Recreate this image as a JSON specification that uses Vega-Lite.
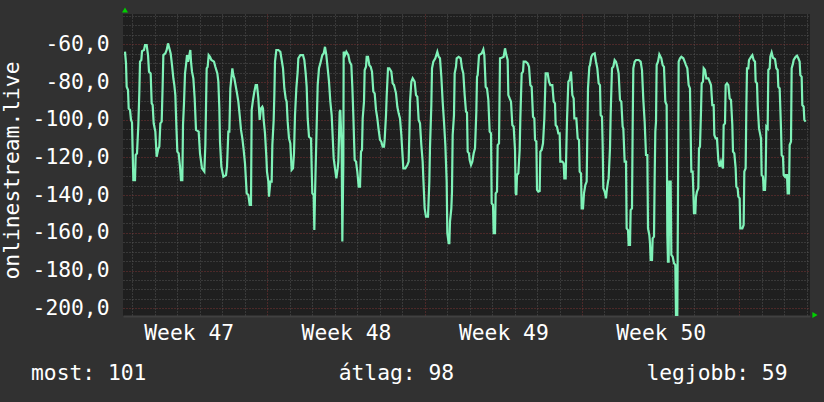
{
  "$schema": "https://vega.github.io/schema/vega-lite/v6.json",
  "width": 687,
  "height": 302,
  "autosize": {"type": "none"},
  "padding": {"left": 123, "top": 14, "right": 14, "bottom": 86},
  "background": "#313131",
  "config": {
    "view": {"fill": "#1f1f1f", "stroke": null},
    "font": "DejaVu Sans Mono",
    "axis": {"labelFont": "DejaVu Sans Mono", "titleFont": "DejaVu Sans Mono", "labelColor": "#ffffff", "titleColor": "#ffffff", "labelFontSize": 21.3, "titleFontSize": 21.3, "titleFontWeight": "normal"}
  },
  "title": {
    "text": "most: 101\u00a0\u00a0\u00a0\u00a0\u00a0\u00a0\u00a0\u00a0\u00a0\u00a0\u00a0\u00a0\u00a0\u00a0\u00a0átlag: 98\u00a0\u00a0\u00a0\u00a0\u00a0\u00a0\u00a0\u00a0\u00a0\u00a0\u00a0\u00a0\u00a0\u00a0\u00a0legjobb: 59",
    "orient": "bottom",
    "anchor": "start",
    "frame": "group",
    "font": "DejaVu Sans Mono",
    "fontSize": 21.3,
    "fontWeight": "normal",
    "color": "#ffffff",
    "dx": -92,
    "offset": 20
  },
  "data": {"values": [
{"d":0.667,"v":-63.9},{"d":0.712,"v":-70.1},{"d":0.741,"v":-82.5},{"d":0.801,"v":-84.2},{"d":0.831,"v":-94.0},{"d":0.890,"v":-94.8},{"d":0.934,"v":-100.1},{"d":0.979,"v":-101.4},{"d":1.008,"v":-116.9},{"d":1.038,"v":-132.0},{"d":1.112,"v":-132.0},{"d":1.142,"v":-118.7},{"d":1.201,"v":-117.8},{"d":1.261,"v":-102.8},{"d":1.305,"v":-85.1},{"d":1.335,"v":-69.2},{"d":1.394,"v":-68.3},{"d":1.424,"v":-63.6},{"d":1.513,"v":-63.0},{"d":1.557,"v":-60.4},{"d":1.631,"v":-60.4},{"d":1.691,"v":-65.7},{"d":1.735,"v":-74.5},{"d":1.809,"v":-75.4},{"d":1.854,"v":-91.3},{"d":1.898,"v":-92.2},{"d":1.943,"v":-101.9},{"d":2.017,"v":-106.3},{"d":2.076,"v":-119.6},{"d":2.150,"v":-115.2},{"d":2.195,"v":-114.3},{"d":2.240,"v":-101.9},{"d":2.299,"v":-101.0},{"d":2.343,"v":-81.6},{"d":2.373,"v":-65.7},{"d":2.462,"v":-64.8},{"d":2.521,"v":-63.0},{"d":2.581,"v":-59.5},{"d":2.640,"v":-62.1},{"d":2.699,"v":-64.8},{"d":2.759,"v":-71.0},{"d":2.818,"v":-78.0},{"d":2.862,"v":-81.6},{"d":2.907,"v":-86.9},{"d":2.951,"v":-102.8},{"d":2.996,"v":-116.9},{"d":3.055,"v":-117.8},{"d":3.114,"v":-124.9},{"d":3.159,"v":-132.0},{"d":3.218,"v":-132.0},{"d":3.248,"v":-102.8},{"d":3.292,"v":-91.3},{"d":3.337,"v":-75.4},{"d":3.381,"v":-71.0},{"d":3.426,"v":-65.7},{"d":3.470,"v":-69.2},{"d":3.515,"v":-66.6},{"d":3.574,"v":-63.0},{"d":3.604,"v":-69.2},{"d":3.648,"v":-74.5},{"d":3.708,"v":-78.0},{"d":3.767,"v":-88.7},{"d":3.826,"v":-105.4},{"d":3.945,"v":-106.3},{"d":4.004,"v":-117.8},{"d":4.093,"v":-125.8},{"d":4.197,"v":-127.5},{"d":4.242,"v":-113.4},{"d":4.301,"v":-72.7},{"d":4.345,"v":-71.9},{"d":4.390,"v":-65.7},{"d":4.449,"v":-66.6},{"d":4.509,"v":-68.3},{"d":4.627,"v":-69.2},{"d":4.687,"v":-71.9},{"d":4.776,"v":-75.4},{"d":4.820,"v":-79.8},{"d":4.865,"v":-94.0},{"d":4.894,"v":-111.6},{"d":4.954,"v":-124.9},{"d":5.043,"v":-130.2},{"d":5.161,"v":-129.3},{"d":5.206,"v":-124.9},{"d":5.265,"v":-106.3},{"d":5.310,"v":-106.3},{"d":5.354,"v":-83.4},{"d":5.398,"v":-78.0},{"d":5.443,"v":-72.7},{"d":5.487,"v":-76.3},{"d":5.532,"v":-78.0},
{"d":5.651,"v":-86.0},{"d":5.710,"v":-90.4},{"d":5.769,"v":-97.5},{"d":5.828,"v":-105.4},{"d":5.888,"v":-109.9},{"d":5.947,"v":-116.0},{"d":6.006,"v":-123.1},{"d":6.081,"v":-139.0},{"d":6.155,"v":-139.9},{"d":6.214,"v":-145.2},{"d":6.273,"v":-145.2},{"d":6.303,"v":-94.8},{"d":6.362,"v":-89.5},{"d":6.422,"v":-85.1},{"d":6.481,"v":-81.6},{"d":6.540,"v":-81.6},{"d":6.600,"v":-88.7},{"d":6.659,"v":-100.1},{"d":6.718,"v":-94.0},{"d":6.778,"v":-93.1},{"d":6.807,"v":-94.0},{"d":6.837,"v":-100.1},{"d":6.896,"v":-107.2},{"d":6.956,"v":-119.6},{"d":6.985,"v":-127.5},{"d":7.045,"v":-132.8},{"d":7.074,"v":-140.8},{"d":7.134,"v":-132.8},{"d":7.193,"v":-132.8},{"d":7.223,"v":-113.4},{"d":7.282,"v":-100.1},{"d":7.312,"v":-86.9},{"d":7.341,"v":-69.2},{"d":7.401,"v":-63.0},{"d":7.490,"v":-63.0},{"d":7.579,"v":-63.9},{"d":7.638,"v":-68.3},{"d":7.697,"v":-72.7},{"d":7.757,"v":-83.4},{"d":7.816,"v":-88.7},{"d":7.860,"v":-90.4},{"d":7.905,"v":-101.0},{"d":7.964,"v":-109.9},{"d":8.023,"v":-112.5},{"d":8.083,"v":-126.6},{"d":8.142,"v":-125.8},{"d":8.187,"v":-117.8},{"d":8.231,"v":-97.5},{"d":8.290,"v":-83.4},{"d":8.350,"v":-74.5},{"d":8.379,"v":-67.4},{"d":8.468,"v":-65.7},{"d":8.587,"v":-65.7},{"d":8.646,"v":-68.3},{"d":8.706,"v":-75.4},{"d":8.750,"v":-82.5},{"d":8.795,"v":-99.3},{"d":8.854,"v":-109.0},{"d":8.943,"v":-109.9},{"d":8.973,"v":-125.8},{"d":9.002,"v":-139.0},{"d":9.062,"v":-139.9},{"d":9.091,"v":-158.5},{"d":9.121,"v":-139.9},{"d":9.180,"v":-110.7},{"d":9.240,"v":-81.6},{"d":9.299,"v":-72.7},{"d":9.358,"v":-70.1},{"d":9.447,"v":-65.7},{"d":9.507,"v":-64.8},{"d":9.566,"v":-61.3},{"d":9.625,"v":-65.7},{"d":9.685,"v":-72.7},{"d":9.744,"v":-79.8},{"d":9.803,"v":-90.4},{"d":9.863,"v":-97.5},{"d":9.952,"v":-120.5},{"d":10.011,"v":-125.8},{"d":10.070,"v":-131.1},{"d":10.130,"v":-125.8},{"d":10.159,"v":-122.2},{"d":10.219,"v":-95.7},{"d":10.248,"v":-94.8},{"d":10.307,"v":-115.2},{"d":10.337,"v":-164.6},{"d":10.382,"v":-122.2},{"d":10.396,"v":-63.9},{"d":10.456,"v":-65.7},{"d":10.515,"v":-63.9},{"d":10.604,"v":-65.7},{"d":10.663,"v":-69.2},
{"d":10.737,"v":-71.0},{"d":10.782,"v":-82.5},{"d":10.826,"v":-97.5},{"d":10.856,"v":-109.9},{"d":10.886,"v":-121.4},{"d":10.945,"v":-122.2},{"d":11.004,"v":-127.5},{"d":11.064,"v":-135.5},{"d":11.123,"v":-135.5},{"d":11.167,"v":-116.9},{"d":11.212,"v":-116.0},{"d":11.242,"v":-99.3},{"d":11.301,"v":-90.4},{"d":11.331,"v":-73.6},{"d":11.390,"v":-71.9},{"d":11.420,"v":-66.6},{"d":11.479,"v":-66.6},{"d":11.538,"v":-71.0},{"d":11.598,"v":-71.9},{"d":11.657,"v":-74.5},{"d":11.716,"v":-85.1},{"d":11.776,"v":-86.0},{"d":11.835,"v":-94.8},{"d":11.894,"v":-99.3},{"d":11.953,"v":-105.4},{"d":12.013,"v":-110.7},{"d":12.072,"v":-111.6},{"d":12.131,"v":-114.3},{"d":12.191,"v":-114.3},{"d":12.220,"v":-110.7},{"d":12.280,"v":-97.5},{"d":12.309,"v":-87.8},{"d":12.369,"v":-72.7},{"d":12.428,"v":-72.7},{"d":12.517,"v":-74.5},{"d":12.576,"v":-80.7},{"d":12.636,"v":-81.6},{"d":12.725,"v":-86.0},{"d":12.784,"v":-93.1},{"d":12.843,"v":-96.6},{"d":12.903,"v":-99.3},{"d":12.962,"v":-108.1},{"d":13.006,"v":-116.9},{"d":13.051,"v":-125.8},{"d":13.140,"v":-125.8},{"d":13.229,"v":-124.0},{"d":13.288,"v":-122.2},{"d":13.318,"v":-108.1},{"d":13.348,"v":-90.4},{"d":13.407,"v":-79.8},{"d":13.466,"v":-78.0},{"d":13.555,"v":-79.8},{"d":13.615,"v":-86.9},{"d":13.674,"v":-87.8},{"d":13.733,"v":-100.1},{"d":13.793,"v":-101.9},{"d":13.852,"v":-113.4},{"d":13.911,"v":-122.2},{"d":13.941,"v":-131.1},{"d":14.000,"v":-147.0},{"d":14.060,"v":-151.4},{"d":14.149,"v":-151.4},{"d":14.208,"v":-132.8},{"d":14.238,"v":-114.3},{"d":14.297,"v":-92.2},{"d":14.327,"v":-72.7},{"d":14.386,"v":-69.2},{"d":14.475,"v":-67.4},{"d":14.564,"v":-63.9},{"d":14.623,"v":-66.6},{"d":14.682,"v":-67.4},{"d":14.742,"v":-77.2},{"d":14.801,"v":-90.4},{"d":14.860,"v":-101.0},{"d":14.920,"v":-113.4},{"d":14.979,"v":-132.8},{"d":15.009,"v":-160.2},{"d":15.068,"v":-165.5},{"d":15.098,"v":-165.5},{"d":15.127,"v":-154.0},{"d":15.187,"v":-147.0},{"d":15.216,"v":-138.1},{"d":15.246,"v":-108.1},{"d":15.305,"v":-97.5},{"d":15.335,"v":-75.4},{"d":15.394,"v":-71.9},{"d":15.424,"v":-67.4},{"d":15.513,"v":-66.6},{"d":15.602,"v":-67.4},{"d":15.661,"v":-72.7},{"d":15.720,"v":-75.4},{"d":15.780,"v":-86.9},
{"d":15.839,"v":-95.7},{"d":15.884,"v":-96.1},{"d":15.914,"v":-116.9},{"d":15.973,"v":-117.8},{"d":16.003,"v":-121.4},{"d":16.062,"v":-124.0},{"d":16.121,"v":-122.2},{"d":16.181,"v":-117.8},{"d":16.240,"v":-115.2},{"d":16.299,"v":-95.7},{"d":16.329,"v":-77.2},{"d":16.359,"v":-76.3},{"d":16.418,"v":-65.7},{"d":16.537,"v":-64.8},{"d":16.611,"v":-62.7},{"d":16.655,"v":-65.7},{"d":16.715,"v":-82.5},{"d":16.774,"v":-83.4},{"d":16.833,"v":-89.5},{"d":16.892,"v":-106.3},{"d":16.952,"v":-107.2},{"d":16.981,"v":-144.3},{"d":17.041,"v":-145.2},{"d":17.070,"v":-160.2},{"d":17.130,"v":-160.2},{"d":17.159,"v":-139.0},{"d":17.219,"v":-138.1},{"d":17.248,"v":-113.4},{"d":17.308,"v":-112.5},{"d":17.352,"v":-67.4},{"d":17.426,"v":-67.1},{"d":17.515,"v":-66.6},{"d":17.575,"v":-62.1},{"d":17.634,"v":-65.7},{"d":17.693,"v":-68.3},{"d":17.723,"v":-86.9},{"d":17.782,"v":-88.7},{"d":17.842,"v":-90.4},{"d":17.901,"v":-102.8},{"d":17.960,"v":-103.7},{"d":18.020,"v":-116.0},{"d":18.049,"v":-139.0},{"d":18.079,"v":-139.9},{"d":18.109,"v":-129.3},{"d":18.168,"v":-128.4},{"d":18.227,"v":-116.0},{"d":18.257,"v":-99.3},{"d":18.316,"v":-75.4},{"d":18.376,"v":-74.5},{"d":18.405,"v":-69.2},{"d":18.494,"v":-69.2},{"d":18.583,"v":-70.1},{"d":18.643,"v":-71.9},{"d":18.702,"v":-81.6},{"d":18.761,"v":-82.5},{"d":18.821,"v":-98.4},{"d":18.880,"v":-99.3},{"d":18.910,"v":-110.7},{"d":18.969,"v":-111.6},{"d":18.999,"v":-137.2},{"d":19.058,"v":-138.1},{"d":19.117,"v":-137.8},{"d":19.147,"v":-116.9},{"d":19.206,"v":-116.0},{"d":19.266,"v":-112.5},{"d":19.325,"v":-99.3},{"d":19.384,"v":-75.4},{"d":19.473,"v":-75.4},{"d":19.532,"v":-79.8},{"d":19.592,"v":-81.6},{"d":19.681,"v":-81.6},{"d":19.740,"v":-90.4},{"d":19.799,"v":-91.3},{"d":19.829,"v":-102.8},{"d":19.888,"v":-103.7},{"d":19.948,"v":-107.2},{"d":20.007,"v":-107.2},{"d":20.037,"v":-122.2},{"d":20.126,"v":-122.2},{"d":20.185,"v":-123.1},{"d":20.215,"v":-131.1},{"d":20.274,"v":-131.1},{"d":20.304,"v":-115.2},{"d":20.333,"v":-100.1},{"d":20.393,"v":-79.8},{"d":20.452,"v":-78.9},{"d":20.511,"v":-74.5},{"d":20.571,"v":-86.9},{"d":20.630,"v":-88.7},{"d":20.660,"v":-99.3},{"d":20.749,"v":-99.3},{"d":20.808,"v":-109.9},{"d":20.867,"v":-110.7},{"d":20.897,"v":-127.5},{"d":20.956,"v":-128.4},{"d":20.986,"v":-147.0},{"d":21.045,"v":-147.0},
{"d":21.089,"v":-139.0},{"d":21.148,"v":-134.6},{"d":21.208,"v":-132.8},{"d":21.237,"v":-108.1},{"d":21.267,"v":-83.4},{"d":21.326,"v":-71.9},{"d":21.356,"v":-71.0},{"d":21.415,"v":-66.6},{"d":21.475,"v":-65.3},{"d":21.564,"v":-64.8},{"d":21.623,"v":-69.2},{"d":21.682,"v":-72.7},{"d":21.742,"v":-80.7},{"d":21.801,"v":-81.6},{"d":21.831,"v":-97.5},{"d":21.890,"v":-98.4},{"d":21.920,"v":-113.4},{"d":21.949,"v":-136.4},{"d":22.008,"v":-138.1},{"d":22.068,"v":-141.7},{"d":22.097,"v":-138.1},{"d":22.157,"v":-132.8},{"d":22.186,"v":-131.1},{"d":22.246,"v":-115.2},{"d":22.275,"v":-97.5},{"d":22.335,"v":-72.7},{"d":22.394,"v":-71.9},{"d":22.453,"v":-68.3},{"d":22.513,"v":-69.2},{"d":22.572,"v":-71.9},{"d":22.631,"v":-75.4},{"d":22.691,"v":-89.5},{"d":22.750,"v":-90.4},{"d":22.809,"v":-103.7},{"d":22.839,"v":-104.6},{"d":22.898,"v":-122.2},{"d":22.958,"v":-122.2},{"d":22.987,"v":-157.6},{"d":23.047,"v":-158.5},{"d":23.076,"v":-166.4},{"d":23.136,"v":-166.4},{"d":23.165,"v":-147.9},{"d":23.225,"v":-147.0},{"d":23.254,"v":-104.6},{"d":23.284,"v":-72.7},{"d":23.343,"v":-69.2},{"d":23.403,"v":-68.3},{"d":23.521,"v":-68.3},{"d":23.610,"v":-69.2},{"d":23.670,"v":-73.6},{"d":23.729,"v":-89.5},{"d":23.788,"v":-101.0},{"d":23.848,"v":-118.7},{"d":23.907,"v":-118.7},{"d":23.937,"v":-157.6},{"d":23.996,"v":-161.1},{"d":24.026,"v":-165.5},{"d":24.055,"v":-174.4},{"d":24.115,"v":-174.4},{"d":24.144,"v":-162.9},{"d":24.204,"v":-162.0},{"d":24.233,"v":-131.1},{"d":24.263,"v":-106.3},{"d":24.293,"v":-101.0},{"d":24.322,"v":-71.0},{"d":24.381,"v":-69.2},{"d":24.441,"v":-65.3},{"d":24.530,"v":-67.4},{"d":24.589,"v":-71.0},{"d":24.648,"v":-71.9},{"d":24.708,"v":-90.4},{"d":24.767,"v":-92.2},{"d":24.797,"v":-161.1},{"d":24.826,"v":-175.3},{"d":24.856,"v":-175.3},{"d":24.886,"v":-132.8},{"d":24.945,"v":-132.8},{"d":24.975,"v":-171.7},{"d":25.034,"v":-172.6},{"d":25.093,"v":-176.1},{"d":25.153,"v":-177.0},{"d":25.182,"v":-203.5},{"d":25.242,"v":-203.5},{"d":25.271,"v":-141.7},{"d":25.301,"v":-69.2},{"d":25.360,"v":-67.4},{"d":25.420,"v":-66.6},{"d":25.509,"v":-67.4},{"d":25.568,"v":-69.2},{"d":25.627,"v":-71.0},{"d":25.687,"v":-72.7},{"d":25.746,"v":-81.6},{"d":25.805,"v":-83.4},{"d":25.865,"v":-127.5},{"d":25.924,"v":-127.5},{"d":25.954,"v":-138.1},{"d":25.983,"v":-149.6},{"d":26.043,"v":-149.6},
{"d":26.072,"v":-140.8},{"d":26.117,"v":-138.1},{"d":26.176,"v":-136.4},{"d":26.206,"v":-115.2},{"d":26.250,"v":-114.3},{"d":26.295,"v":-95.7},{"d":26.325,"v":-80.7},{"d":26.384,"v":-79.8},{"d":26.414,"v":-72.7},{"d":26.473,"v":-73.6},{"d":26.532,"v":-78.0},{"d":26.621,"v":-78.0},{"d":26.681,"v":-79.8},{"d":26.740,"v":-81.6},{"d":26.799,"v":-92.2},{"d":26.859,"v":-92.2},{"d":26.888,"v":-108.1},{"d":26.948,"v":-109.9},{"d":27.007,"v":-109.9},{"d":27.066,"v":-121.4},{"d":27.096,"v":-123.1},{"d":27.126,"v":-124.9},{"d":27.185,"v":-122.2},{"d":27.244,"v":-124.9},{"d":27.274,"v":-125.8},{"d":27.303,"v":-102.8},{"d":27.363,"v":-101.9},{"d":27.392,"v":-81.6},{"d":27.452,"v":-80.7},{"d":27.511,"v":-81.6},{"d":27.570,"v":-88.7},{"d":27.630,"v":-89.5},{"d":27.689,"v":-102.8},{"d":27.719,"v":-116.9},{"d":27.778,"v":-117.8},{"d":27.837,"v":-125.8},{"d":27.867,"v":-135.5},{"d":27.926,"v":-136.4},{"d":27.956,"v":-140.8},{"d":28.015,"v":-141.7},{"d":28.045,"v":-157.6},{"d":28.134,"v":-157.6},{"d":28.193,"v":-155.8},{"d":28.223,"v":-127.5},{"d":28.282,"v":-125.8},{"d":28.312,"v":-94.0},{"d":28.342,"v":-72.7},{"d":28.401,"v":-72.7},{"d":28.431,"v":-68.3},{"d":28.520,"v":-66.6},{"d":28.579,"v":-65.7},{"d":28.638,"v":-68.3},{"d":28.698,"v":-69.2},{"d":28.727,"v":-79.8},{"d":28.787,"v":-80.7},{"d":28.816,"v":-92.2},{"d":28.876,"v":-104.6},{"d":28.905,"v":-106.3},{"d":28.965,"v":-109.9},{"d":28.994,"v":-129.3},{"d":29.054,"v":-130.2},{"d":29.083,"v":-137.2},{"d":29.143,"v":-137.2},{"d":29.172,"v":-129.3},{"d":29.202,"v":-103.7},{"d":29.261,"v":-104.6},{"d":29.291,"v":-73.6},{"d":29.350,"v":-72.7},{"d":29.380,"v":-66.6},{"d":29.439,"v":-64.3},{"d":29.499,"v":-67.1},{"d":29.588,"v":-67.8},{"d":29.647,"v":-72.7},{"d":29.706,"v":-73.6},{"d":29.736,"v":-82.5},{"d":29.795,"v":-83.4},{"d":29.855,"v":-104.6},{"d":29.884,"v":-118.7},{"d":29.944,"v":-119.6},{"d":29.973,"v":-129.3},{"d":30.033,"v":-130.2},{"d":30.062,"v":-129.3},{"d":30.122,"v":-129.3},{"d":30.151,"v":-139.0},{"d":30.211,"v":-139.0},{"d":30.240,"v":-113.4},{"d":30.300,"v":-111.6},{"d":30.329,"v":-72.7},{"d":30.389,"v":-70.1},{"d":30.418,"v":-68.3},{"d":30.507,"v":-66.6},{"d":30.567,"v":-66.0},{"d":30.626,"v":-67.4},{"d":30.685,"v":-69.2},{"d":30.715,"v":-76.3},{"d":30.774,"v":-77.2},{"d":30.804,"v":-92.2},{"d":30.863,"v":-93.1},{"d":30.893,"v":-100.1},{"d":30.952,"v":-101.0}
  ]},
  "resolve": {"axis": {"x": "independent", "y": "independent"}},
  "layer": [
    {
      "mark": {"type": "line", "opacity": 0},
      "encoding": {
        "x": {"field": "d", "type": "quantitative", "scale": {"domain": [0.578, 31.145], "nice": false, "zero": false},
          "axis": {"orient": "bottom", "values": [1,2,3,4,5,6,8,9,10,11,12,13,15,16,17,18,19,20,22,23,24,25,26,27,29,30,31], "grid": true, "gridColor": "#555555", "gridDash": [1, 2], "gridWidth": 1, "labels": false, "ticks": false, "domain": false, "title": null}},
        "y": {"field": "v", "type": "quantitative", "scale": {"domain": [-204.1, -43.9], "nice": false, "zero": false},
          "axis": {"orient": "left", "values": [-195,-190,-185,-175,-170,-165,-155,-150,-145,-135,-130,-125,-115,-110,-105,-95,-90,-85,-75,-70,-65,-55,-50,-45], "grid": true, "gridColor": "#555555", "gridDash": [1, 2], "gridWidth": 1, "labels": false, "ticks": false, "domain": false, "title": null}}
      }
    },
    {
      "mark": {"type": "line", "opacity": 0},
      "encoding": {
        "x": {"field": "d", "type": "quantitative", "scale": {"domain": [0.578, 31.145], "nice": false, "zero": false},
          "axis": {"orient": "bottom", "values": [7, 14, 21, 28], "grid": true, "gridColor": "#7a3434", "gridDash": [1, 2], "gridWidth": 1, "labels": false, "ticks": false, "domain": true, "domainColor": "#404040", "domainWidth": 2, "title": null}},
        "y": {"field": "v", "type": "quantitative", "scale": {"domain": [-204.1, -43.9], "nice": false, "zero": false},
          "axis": {"orient": "left", "values": [-200,-180,-160,-140,-120,-100,-80,-60], "grid": true, "gridColor": "#7a3434", "gridDash": [1, 2], "gridWidth": 1, "ticks": false, "domain": false, "labelPadding": 14, "labelExpr": "datum.value + ',0'",
            "title": "onlinestream.live", "titleAngle": -90, "titleAlign": "center", "titleBaseline": "alphabetic", "titleX": -105, "titleY": 156}}
      }
    },
    {
      "mark": {"type": "line", "color": "#7ff2b8", "strokeWidth": 2.2, "strokeJoin": "miter"},
      "encoding": {
        "x": {"field": "d", "type": "quantitative", "scale": {"domain": [0.578, 31.145], "nice": false, "zero": false},
          "axis": {"orient": "bottom", "values": [3.5, 10.5, 17.5, 24.5], "grid": false, "ticks": false, "domain": false, "labelPadding": 23, "labelBaseline": "alphabetic", "labelExpr": "'Week ' + (47 + floor(datum.value / 7))", "title": null}},
        "y": {"field": "v", "type": "quantitative", "scale": {"domain": [-204.1, -43.9], "nice": false, "zero": false}, "axis": null}
      }
    },
    {
      "data": {"values": [{"arrow": "y"}]},
      "mark": {"type": "point", "shape": "triangle-up", "filled": true, "color": "#00d000", "opacity": 1, "size": 36, "xOffset": 2, "yOffset": -4},
      "encoding": {
        "x": {"datum": 0.578, "type": "quantitative", "axis": null},
        "y": {"datum": -43.9, "type": "quantitative", "axis": null}
      }
    },
    {
      "data": {"values": [{"arrow": "x"}]},
      "mark": {"type": "point", "shape": "triangle-right", "filled": true, "color": "#00d000", "opacity": 1, "size": 36, "xOffset": 5, "yOffset": -1},
      "encoding": {
        "x": {"datum": 31.145, "type": "quantitative", "axis": null},
        "y": {"datum": -204.1, "type": "quantitative", "axis": null}
      }
    }
  ]
}
